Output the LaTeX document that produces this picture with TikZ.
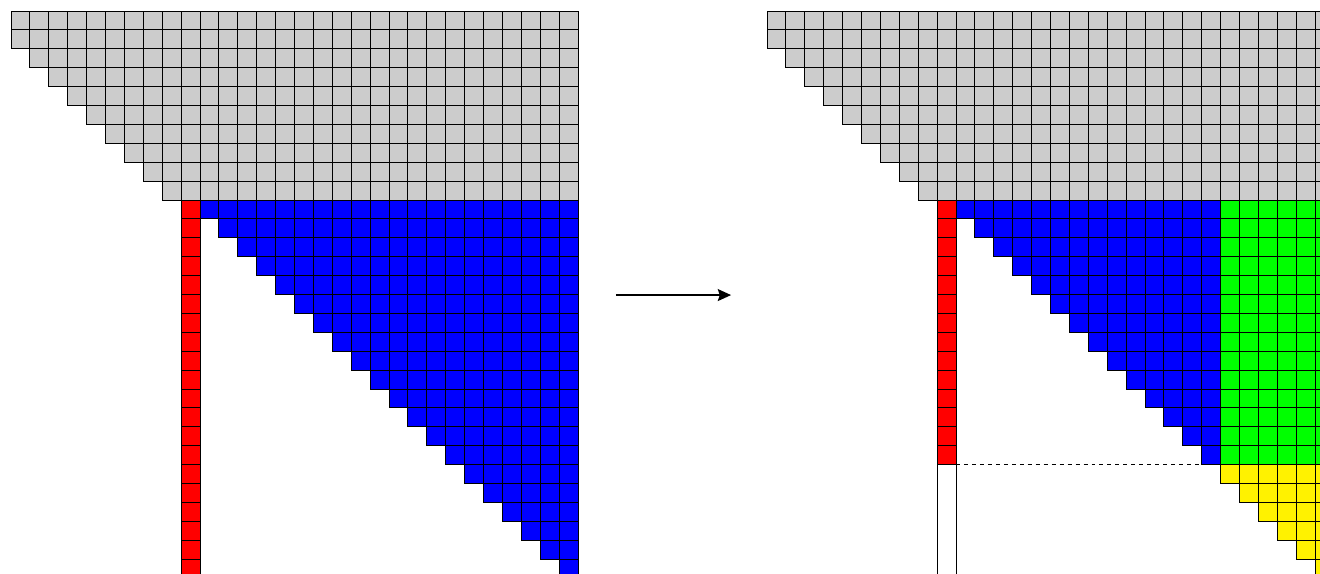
\documentclass[tikz,border=0pt]{standalone}
\usepackage{tikz}
\usetikzlibrary{arrows.meta}

\begin{document}
\begin{tikzpicture}[>={Stealth[length=10pt,width=9pt,inset=1.5pt]}, x=0.5cm, y=0.5cm,
    cell/.style={draw, line width=0.75pt},
    graycell/.style={cell, fill=gray!40},
    redcell/.style={cell, fill=red},
    bluecell/.style={cell, fill=blue},
    greencell/.style={cell, fill=green},
    yellowcell/.style={cell, fill=yellow}]
  \clip (-0.582,0.582) rectangle (69.26,-29.74);

  % matrix before the update
  \begin{scope}
    \foreach \r [evaluate=\r as \s using {int(max(\r-1,0))}] in {0,...,9}
      \foreach \c in {\s,...,29}
        \draw[graycell] (\c,-\r) rectangle ++(1,-1);
    \foreach \r in {10,...,29} {
      \draw[redcell] (9,-\r) rectangle ++(1,-1);
      \foreach \c in {\r,...,29}
        \draw[bluecell] (\c,-\r) rectangle ++(1,-1);
    }
  \end{scope}

  % arrow between the two states
  \coordinate (before) at (32.01,-15.03);
  \coordinate (after) at (38.1,-15.03);
  \draw[->, line width=1.3pt] (before) -- (after);

  % matrix after the update
  \begin{scope}[xshift=20cm]
    \foreach \r [evaluate=\r as \s using {int(max(\r-1,0))}] in {0,...,9}
      \foreach \c in {\s,...,29}
        \draw[graycell] (\c,-\r) rectangle ++(1,-1);
    \foreach \r in {10,...,23} {
      \draw[redcell] (9,-\r) rectangle ++(1,-1);
      \foreach \c in {\r,...,23}
        \draw[bluecell] (\c,-\r) rectangle ++(1,-1);
      \foreach \c in {24,...,29}
        \draw[greencell] (\c,-\r) rectangle ++(1,-1);
    }
    \draw[cell, fill=white] (9,-24) rectangle (10,-30);
    \draw[dashed, line width=0.7pt] (10,-24) -- (23,-24);
    \foreach \r in {24,...,29}
      \foreach \c in {\r,...,29}
        \draw[yellowcell] (\c,-\r) rectangle ++(1,-1);
  \end{scope}
\end{tikzpicture}
\end{document}
